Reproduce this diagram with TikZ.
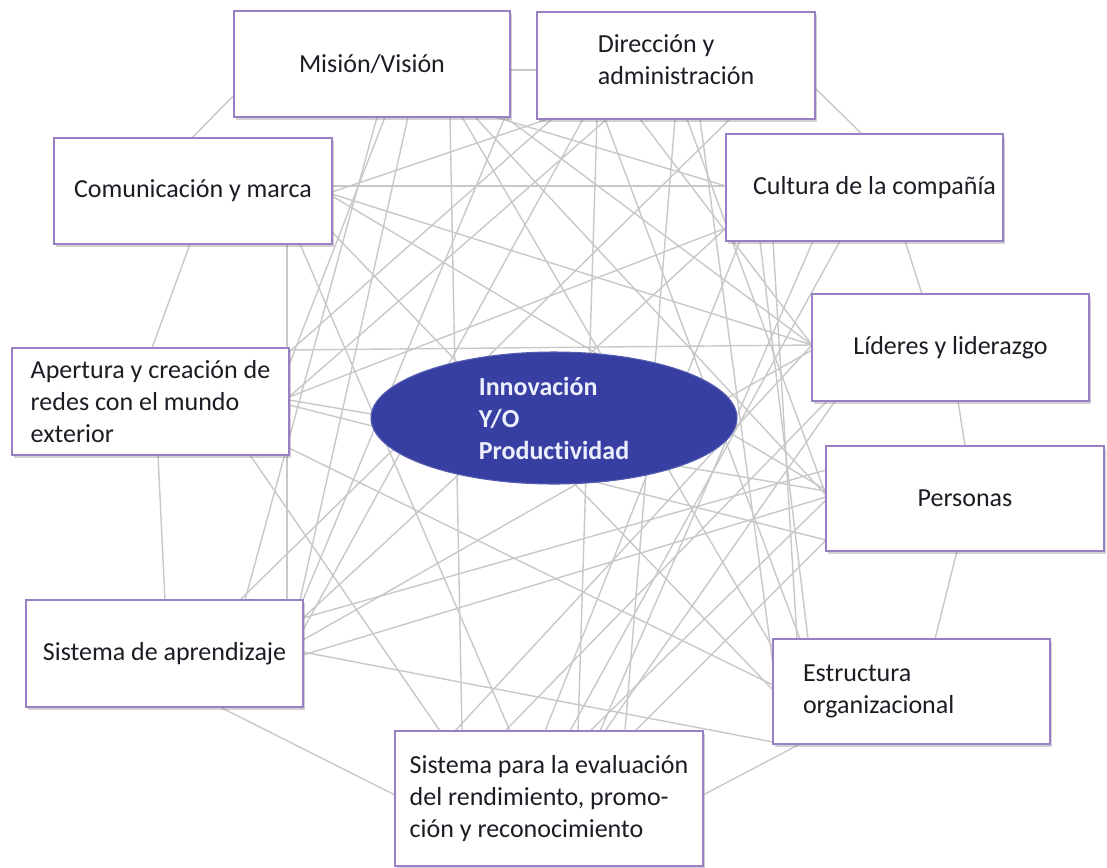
\documentclass[tikz,border=0pt]{standalone}
\usepackage{fontspec}
\setmainfont{Carlito}[Ligatures={NoCommon}]
\usetikzlibrary{calc,shadows,shapes.geometric}

\newdimen\pxu \pxu=0.02cm
\definecolor{boxline}{RGB}{152,128,196}
\definecolor{linkgray}{RGB}{200,200,200}
\definecolor{txt}{RGB}{28,28,36}
\definecolor{coreblue}{RGB}{55,64,162}
\definecolor{coretext}{RGB}{236,238,252}

% points on a box edge, measured from its upper/lower left corner
\newcommand\atBot[2]{([xshift=#2\pxu]#1.south west)}
\newcommand\atTop[2]{([xshift=#2\pxu]#1.north west)}
\newcommand\atLft[2]{([yshift=-#2\pxu]#1.north west)}
\newcommand\atRgt[2]{([yshift=-#2\pxu]#1.north east)}

\pgfdeclarelayer{links}
\pgfsetlayers{links,main}

\begin{document}
\begin{tikzpicture}[x=0.02cm,y=-0.02cm,
  box/.style={draw=boxline, line width=1.1pt, fill=white, inner sep=0pt, outer sep=0pt,
    minimum width=277\pxu, minimum height=107\pxu, align=left, text=txt,
    font=\fontsize{14.8}{18.2}\selectfont,
    drop shadow={shadow xshift=0.035cm, shadow yshift=-0.05cm, opacity=0.3, fill=black!60}},
  link/.style={draw=linkgray, line width=0.8pt},
  core/.style={ellipse, fill=coreblue, draw=coreblue!85!white, line width=0.6pt,
    minimum width=366\pxu, minimum height=132\pxu, inner sep=0pt,
    text=coretext, align=left, font=\fontsize{14.8}{18.2}\selectfont\bfseries}]

\useasboundingbox (0,0) rectangle (1107,867);

% boxes around the centre
\node[box, minimum width=276\pxu, minimum height=106\pxu] (mision) at (372,64) {Misión/Visión};
\node[box, minimum width=278\pxu, text depth=12\pxu] (direc) at (676,65.5) {Dirección y\\administración};
\node[box, minimum width=278\pxu, minimum height=106\pxu] (comun) at (193,191) {Comunicación y marca};
\node[box, text width=263\pxu, align=flush right] (cultura) at (864.5,187.5) {Cultura de la compañía};
\node[box] (lideres) at (950.5,347.5) {Líderes y liderazgo};
\node[box] (apert) at (150.5,401.5) {Apertura y creación de\\redes con el mundo\\exterior};
\node[box, minimum width=278\pxu, minimum height=105\pxu] (personas) at (965,498.5) {Personas};
\node[box] (aprend) at (164.5,653.5) {Sistema de aprendizaje};
\node[box, minimum height=105\pxu, text width=217\pxu] (estruct) at (911.5,691.5) {Estructura\\organizacional};
\node[box, minimum width=308\pxu, minimum height=135\pxu] (evalua) at (549,798.5) {Sistema para la evaluación\\del rendimiento, promo-\\ción y reconocimiento};

% central ellipse
\node[core] (core) at (554,418) {Innovación\\Y/O\\Productividad};

\begin{pgfonlayer}{links}
% outer ring between neighbours
\draw[link] \atLft{mision}{84} -- \atTop{comun}{138};
\draw[link] \atRgt{mision}{59} -- \atLft{direc}{58};
\draw[link] \atRgt{direc}{76} -- \atTop{cultura}{136};
\draw[link] \atBot{cultura}{179} -- \atTop{lideres}{110};
\draw[link] \atBot{lideres}{146} -- \atTop{personas}{139};
\draw[link] \atBot{personas}{131} -- \atTop{estruct}{162};
\draw[link] \atBot{estruct}{27} -- \atRgt{evalua}{64};
\draw[link] \atLft{evalua}{64} -- \atBot{aprend}{194};
\draw[link] \atTop{aprend}{139} -- \atBot{apert}{146};
\draw[link] \atTop{apert}{140} -- \atBot{comun}{136};
% Comunicación y marca
\draw[link] \atRgt{comun}{54} -- \atBot{direc}{11};
\draw[link] \atRgt{comun}{48} -- \atLft{cultura}{52};
\draw[link] \atRgt{comun}{56} -- \atLft{lideres}{51};
\draw[link] \atRgt{comun}{58} -- \atLft{personas}{44};
\draw[link] \atRgt{comun}{94} -- \atLft{estruct}{51};
\draw[link] \atBot{comun}{233} -- \atTop{aprend}{261};
\draw[link] \atBot{comun}{246} -- \atTop{evalua}{115};
% Misión/Visión
\draw[link] \atBot{mision}{143} -- \atTop{aprend}{219};
\draw[link] \atBot{mision}{174} -- \atTop{aprend}{274};
\draw[link] \atBot{mision}{216} -- \atTop{evalua}{67};
\draw[link] \atBot{mision}{228} -- \atLft{estruct}{9};
\draw[link] \atBot{mision}{241} -- \atLft{personas}{49};
\draw[link] \atBot{mision}{261} -- \atLft{cultura}{52};
\draw[link] \atBot{mision}{271} -- \atLft{lideres}{51};
\draw[link] \atBot{mision}{151} -- \atRgt{apert}{17};
% Dirección y administración
\draw[link] \atBot{direc}{46} -- \atRgt{aprend}{30};
\draw[link] \atBot{direc}{60} -- \atTop{evalua}{183};
\draw[link] \atBot{direc}{68} -- \atTop{estruct}{27};
\draw[link] \atBot{direc}{103} -- \atLft{lideres}{51};
\draw[link] \atBot{direc}{138} -- \atTop{evalua}{230};
\draw[link] \atBot{direc}{163} -- \atLft{estruct}{26};
\draw[link] \atBot{direc}{15} -- \atRgt{apert}{4};
\draw[link] \atBot{direc}{193} -- \atTop{aprend}{214};
\draw[link] \atBot{direc}{70} -- \atRgt{apert}{49};
% Cultura de la compañía
\draw[link] \atLft{cultura}{94} -- \atRgt{apert}{49};
\draw[link] \atLft{cultura}{94} -- \atRgt{aprend}{18};
\draw[link] \atBot{cultura}{47} -- \atTop{estruct}{24};
\draw[link] \atBot{cultura}{87} -- \atTop{evalua}{205};
\draw[link] \atBot{cultura}{14} -- \atTop{evalua}{150};
\draw[link] \atBot{cultura}{34} -- \atTop{estruct}{35};
% Líderes y liderazgo
\draw[link] \atLft{lideres}{51} -- \atRgt{apert}{2};
\draw[link] \atLft{lideres}{51} -- \atTop{evalua}{60};
\draw[link] \atLft{lideres}{56} -- \atRgt{aprend}{40};
\draw[link] \atBot{lideres}{15} -- \atTop{evalua}{110};
% Personas
\draw[link] \atLft{personas}{49} -- \atBot{direc}{150};
\draw[link] \atLft{personas}{94} -- \atTop{evalua}{240};
\draw[link] \atLft{personas}{54} -- \atTop{evalua}{195};
% Sistema para la evaluación
\draw[link] \atTop{evalua}{210} -- \atBot{lideres}{23};
\draw[link] \atTop{evalua}{175} -- \atBot{cultura}{114};
% Sistema de aprendizaje
\draw[link] \atRgt{aprend}{52} -- \atLft{estruct}{103};
\draw[link] \atRgt{aprend}{55} -- \atLft{personas}{51};
\draw[link] \atRgt{aprend}{18} -- \atLft{personas}{24};
\draw[link] \atTop{aprend}{277} -- \atBot{mision}{271};
% Apertura y creación de redes
\draw[link] \atRgt{apert}{52} -- \atLft{personas}{45};
\draw[link] \atRgt{apert}{57} -- \atLft{personas}{94};
\draw[link] \atRgt{apert}{100} -- \atLft{estruct}{46};
\draw[link] \atBot{apert}{238} -- \atTop{evalua}{45};
\end{pgfonlayer}
\end{tikzpicture}
\end{document}
